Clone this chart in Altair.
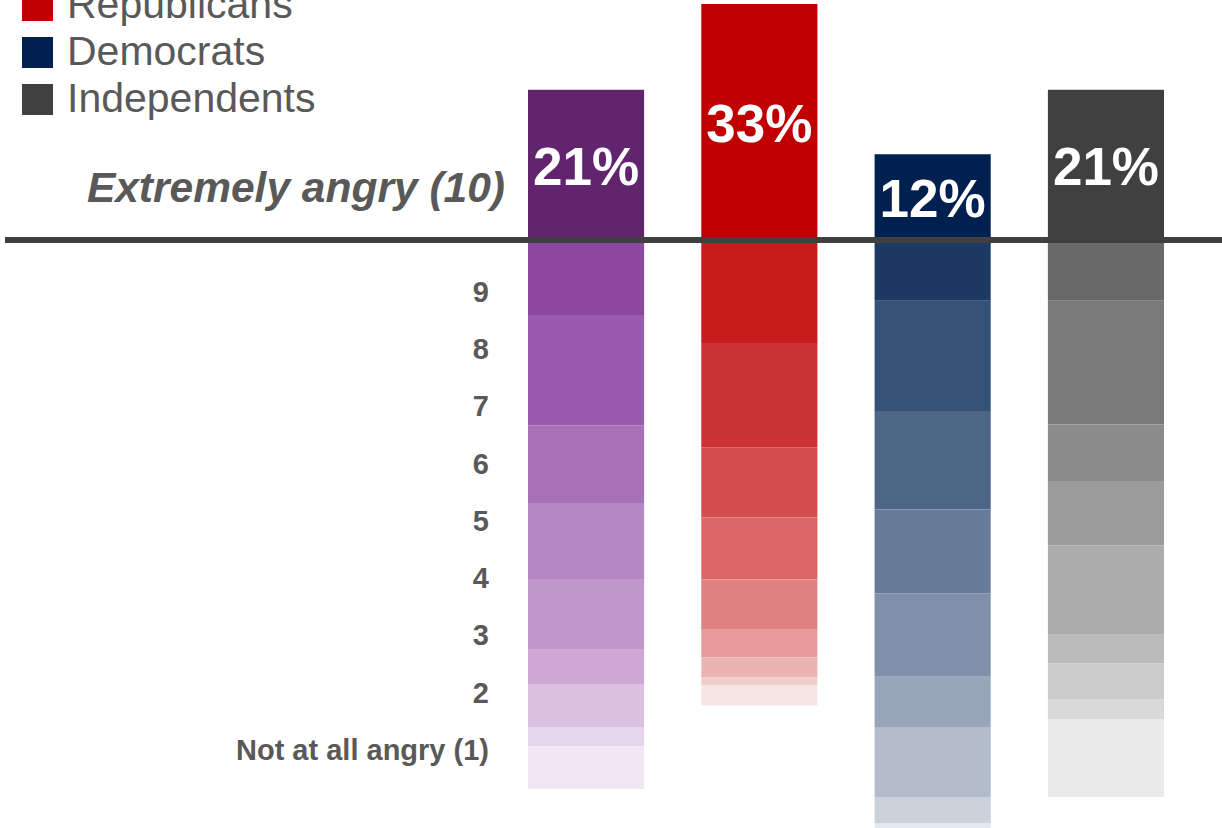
import altair as alt
import pandas as pd

# ---------------- data ----------------
GROUPS = ["Total", "Republicans", "Democrats", "Independents"]
LEVELS = [10, 9, 8, 7, 6, 5, 4, 3, 2, 1]
TOTAL = [21, 10.5, 15.4, 10.9, 10.6, 9.8, 5.0, 5.9, 2.7, 6.0]
REPUBLICANS = [33, 14.4, 14.6, 9.8, 8.7, 7.0, 3.9, 2.8, 1.1, 2.8]
DEMOCRATS = [12, 8.5, 15.4, 13.8, 11.7, 11.7, 7.0, 9.8, 3.7, 3.5]
INDEPENDENTS = [21, 8.5, 17.3, 7.9, 9.0, 12.5, 4.0, 5.0, 2.8, 10.9]
TOP_LABEL = ["Extremely angry (10)"]
SCALE_LABELS = ["9", "8", "7", "6", "5", "4", "3", "2", "Not at all angry (1)"]

# ---------------- styles ----------------
PALETTES = {
    "Total": ["#62246F", "#8D47A1", "#9A5BAE", "#A870B7", "#B486C2",
              "#C097CB", "#CEA9D6", "#DAC1E0", "#E5D5EA", "#F0E6F4"],
    "Republicans": ["#C00000", "#C61A1B", "#CC3334", "#D44D4E", "#D96767",
                    "#E08080", "#E69A9A", "#EBB4B3", "#F1CCCC", "#F7E5E5"],
    "Democrats": ["#002050", "#1C3A64", "#345276", "#4D6686", "#667B98",
                  "#8090A9", "#99A6BA", "#B2BCCB", "#CCD2DC", "#E5E8EE"],
    "Independents": ["#404040", "#696969", "#7A7A7A", "#8B8B8B", "#9B9B9B",
                     "#ACACAC", "#BBBBBB", "#CBCBCB", "#D9D9D9", "#EAEAEA"],
}
TEXT_GRAY = "#595959"
FONT = "Liberation Sans"

series = dict(zip(GROUPS, [TOTAL, REPUBLICANS, DEMOCRATS, INDEPENDENTS]))
rows = []
keys, colors = [], []
for g in GROUPS:
    for lvl, v, c in zip(LEVELS, series[g], PALETTES[g]):
        key = g if lvl == 10 else f"{g} {lvl}"
        keys.append(key)
        colors.append(c)
        rows.append({"group": g, "level": lvl, "key": key,
                     "signed": v if lvl == 10 else -v})
df = pd.DataFrame(rows)

y_scale = alt.Scale(domain=[-82.24, 33.57], nice=False, zero=False)
x_enc = alt.X("group:N", sort=GROUPS,
              scale=alt.Scale(domain=GROUPS, range=[528, 1164],
                              paddingInner=0.33, paddingOuter=0),
              axis=None)

bars = alt.Chart(df).mark_bar().encode(
    x=x_enc,
    y=alt.Y("signed:Q", stack="zero", scale=y_scale, axis=None),
    color=alt.Color(
        "key:N",
        scale=alt.Scale(domain=keys, range=colors),
        legend=alt.Legend(
            values=GROUPS, title=None, orient="none", legendX=17, legendY=-62,
            symbolType="square", symbolSize=961, symbolStrokeWidth=0,
            labelFontSize=41, labelFont=FONT, labelColor=TEXT_GRAY,
            labelLimit=500, rowPadding=5, labelOffset=9, padding=0,
        ),
    ),
    order=alt.Order("level:Q", sort="descending"),
)

pct = alt.Chart(df).transform_filter("datum.level == 10").transform_calculate(
    mid="datum.signed / 2",
    label="format(datum.signed, '.0f') + '%'",
).mark_text(font=FONT, fontWeight="bold", fontSize=53, color="white",
            baseline="middle", dy=4).encode(
    x=x_enc,
    y=alt.Y("mid:Q", scale=y_scale, axis=None),
    text="label:N",
)

rule = alt.Chart(pd.DataFrame({"zero": [0]})).mark_rule(
    color="#404040", strokeWidth=6).encode(
    y=alt.Y("zero:Q", scale=y_scale, axis=None),
    x=alt.value(5), x2=alt.value(1222),
)

main = alt.layer(bars, rule, pct)

scale_lab = alt.Chart(pd.DataFrame({"lab": SCALE_LABELS})).mark_text(
    align="right", baseline="alphabetic", font=FONT, fontWeight="bold",
    fontSize=29, color=TEXT_GRAY).encode(
    y=alt.Y("lab:N", sort=SCALE_LABELS,
            scale=alt.Scale(type="point", domain=SCALE_LABELS,
                            range=[301.7, 760], padding=0),
            axis=None),
    x=alt.value(489),
    text="lab:N",
)

top_lab = alt.Chart(pd.DataFrame({"t": TOP_LABEL})).mark_text(
    align="right", baseline="alphabetic", font=FONT, fontWeight="bold",
    fontStyle="italic", fontSize=42.5, color=TEXT_GRAY).encode(
    x=alt.value(505), y=alt.value(202), text="t:N",
)

chart = alt.layer(main, scale_lab, top_lab).resolve_scale(
    y="independent"
).properties(
    width=1222, height=828, padding=0,
    autosize=alt.AutoSizeParams(type="none"),
    background="white",
).configure_view(stroke=None)

chart.save("out.html", embed_options={"renderer": "svg", "actions": False})
